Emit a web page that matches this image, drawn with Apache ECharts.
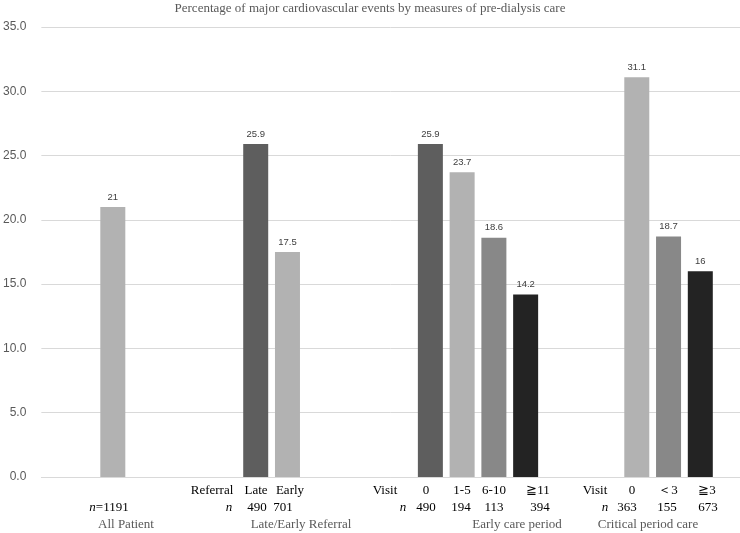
<!DOCTYPE html>
<html>
<head>
<meta charset="utf-8">
<script src="https://cdn.jsdelivr.net/npm/echarts@6/dist/echarts.min.js"></script>
<style>html,body{margin:0;padding:0;background:#fff}#c{width:740px;height:533px}</style>
</head>
<body>
<div id="c"></div>
<script>
// ---- data ----
const titleText = 'Percentage of major cardiovascular events by measures of pre-dialysis care';
const groupNames = ['All Patient', 'Late/Early Referral', 'Early care period', 'Critical period care'];
const barLabels = ['', 'Late', 'Early', '0', '1-5', '6-10', '≧11', '0', '＜3', '≧3'];
const barValues = [21, 25.9, 17.5, 25.9, 23.7, 18.6, 14.2, 31.1, 18.7, 16];
const nValues = ['1191', '490', '701', '490', '194', '113', '394', '363', '155', '673'];
const rowHeaders = [['Referral', 'n'], ['Visit', 'n'], ['Visit', 'n']];
const yTicks = [0, 5, 10, 15, 20, 25, 30, 35];

// ---- layout / style (not data) ----
const slotCount = 44;
const barSlot = [4, 13, 15, 24, 26, 28, 30, 37, 39, 41];
const barColors = ['#b2b2b2', '#5e5e5e', '#b2b2b2', '#5e5e5e', '#b2b2b2', '#888888', '#232323', '#b2b2b2', '#888888', '#232323'];
const row1X = [null, 256, 290, 426, 462, 494, 538, 632, 668, 707];
const row2X = [109, 257, 283, 426, 461, 494, 540, 627, 667, 708];
const headerX = [[212, 229], [385, 403], [595, 605]];
const groupX = [126, 301, 517, 648];
const rowY = [491, 508, 525];

const slots = Array.from({length: slotCount}, () => '');
const seriesData = Array.from({length: slotCount}, () => null);
barSlot.forEach((s, i) => {
  seriesData[s] = {value: barValues[i], itemStyle: {color: barColors[i]}};
});

const serif = '"Liberation Serif", "Times New Roman", serif';
const graphics = [];
function txt(x, y, text, color, extra) {
  graphics.push({
    type: 'text', x: x, y: y, silent: true,
    style: Object.assign({text: text, fill: color, font: '13px ' + serif, align: 'center', verticalAlign: 'middle'}, extra || {})
  });
}
// row 1: category labels
barLabels.forEach((t, i) => { if (t) txt(row1X[i], rowY[0], t, '#000'); });
// row 2: n values
nValues.forEach((t, i) => {
  if (i === 0) {
    graphics.push({type: 'text', x: row2X[i], y: rowY[1], silent: true,
      style: {text: '{i|n}=' + t, fill: '#000', font: '13px ' + serif, align: 'center', verticalAlign: 'middle',
        rich: {i: {fontStyle: 'italic', fontFamily: serif, fontSize: 13, fill: '#000'}}}});
  } else txt(row2X[i], rowY[1], t, '#000');
});
// row headers
rowHeaders.forEach((h, i) => {
  txt(headerX[i][0], rowY[0], h[0], '#000');
  txt(headerX[i][1], rowY[1], h[1], '#000', {font: 'italic 13px ' + serif});
});
// group names
groupNames.forEach((g, i) => txt(groupX[i], rowY[2], g, '#595959'));

const chart = echarts.init(document.getElementById('c'), null, {renderer: 'canvas'});
chart.setOption({
  animation: false,
  backgroundColor: '#fff',
  title: {
    text: titleText, left: 'center', top: 2, padding: 0,
    textStyle: {fontFamily: serif, fontSize: 13, fontWeight: 'normal', color: '#595959'}
  },
  grid: {left: 38, top: 27, width: 704, height: 450},
  xAxis: {
    type: 'category', data: slots, boundaryGap: true,
    axisLine: {lineStyle: {color: '#d9d9d9', width: 1}},
    axisTick: {show: false}, axisLabel: {show: false}, splitLine: {show: false}
  },
  yAxis: {
    type: 'value', min: yTicks[0], max: yTicks[yTicks.length - 1], interval: yTicks[1] - yTicks[0],
    axisLine: {show: false}, axisTick: {show: false},
    axisLabel: {formatter: v => v.toFixed(1), color: '#595959', fontSize: 12, fontFamily: '"Liberation Sans", Arial, sans-serif', margin: 15},
    splitLine: {lineStyle: {color: '#d9d9d9', width: 1}}
  },
  series: [{
    type: 'bar', data: seriesData, barWidth: 25,
    label: {show: true, position: 'top', distance: 5, color: '#404040', fontSize: 9.5, fontFamily: '"Liberation Sans", Arial, sans-serif'}
  }],
  graphic: graphics
});
</script>
</body>
</html>
